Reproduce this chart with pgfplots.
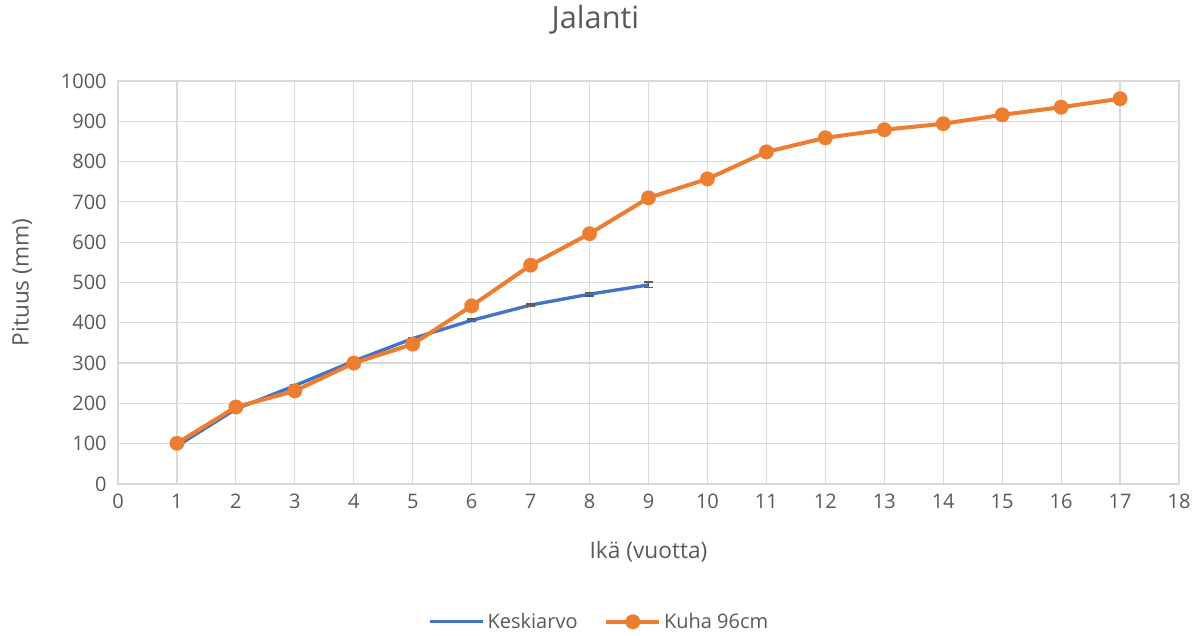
\documentclass[border=0pt]{standalone}
\usepackage{pgfplots}
\pgfplotsset{compat=1.18}
\usepackage{fontspec}
\setmainfont{Open Sans}
\definecolor{cblue}{HTML}{4472C4}
\definecolor{corange}{HTML}{ED7D31}
\definecolor{ctext}{HTML}{595959}
\definecolor{cgrid}{HTML}{D9D9D9}
\begin{document}
\begin{tikzpicture}[x=0.75pt,y=0.75pt]
\begin{axis}[
  scale only axis,
  width=795.75pt, height=302.25pt,
  xmin=0, xmax=18, ymin=0, ymax=1000,
  xtick={0,1,...,18}, ytick={0,100,...,1000},
  grid=major,
  major grid style={cgrid, line width=0.9pt},
  axis line style={cgrid, line width=0.9pt},
  major tick length=0pt,
  tick label style={ctext, font=\fontsize{15}{17}\selectfont},
  /pgf/number format/assume math mode=true,
  /pgf/number format/1000 sep={},
  xticklabel style={yshift=-4pt},
  yticklabel style={xshift=-5pt},
  title={Jalanti},
  title style={ctext, font=\fontsize{23}{26}\selectfont, at={(axis description cs:0.45,1.131)}, anchor=center},
  xlabel={Ikä (vuotta)},
  xlabel style={ctext, font=\fontsize{17}{19}\selectfont, at={(axis description cs:0.5,-0.169)}, anchor=center},
  ylabel={Pituus (mm)},
  ylabel style={ctext, font=\fontsize{17}{19}\selectfont, at={(axis description cs:-0.0905,0.5)}, anchor=center, rotate=0},
  legend columns=2,
  legend style={draw=none, at={(axis description cs:0.454,-0.342)}, anchor=center,
    font=\fontsize{15}{17}\selectfont, text=ctext,
    /tikz/every even column/.append style={column sep=18pt}},
  legend image code/.code={
    \draw[#1, mark=none] (0cm,0cm) -- (1.4cm,0cm);
    \draw[#1, only marks] plot coordinates {(0.7cm,0cm)};},
  legend cell align=left,
]
\addplot[cblue, line width=2.5pt, mark=none,
  error bars/.cd, y dir=both, y explicit,
  error bar style={ctext, line width=0.9pt},
  error mark options={ctext, line width=1.1pt, rotate=90, mark size=3.5pt}]
coordinates {
(1,94) +- (0,3)
(2,186) +- (0,3)
(3,244) +- (0,3)
(4,305) +- (0,3)
(5,361) +- (0,3)
(6,406) +- (0,3)
(7,444) +- (0,3)
(8,471) +- (0,4)
(9,494) +- (0,7)
};
\addlegendentry{Keskiarvo}
\addplot[corange, line width=3pt, mark=*, mark size=5.5pt, mark options={fill=corange, draw=corange, line width=0.1pt}]
coordinates {
(1,101) (2,191) (3,231) (4,300) (5,347) (6,442) (7,543) (8,621) (9,710)
(10,757) (11,824) (12,859) (13,879) (14,894) (15,916) (16,935) (17,956)
};
\addlegendentry{Kuha 96cm}
\end{axis}
\path (current axis.south west) ++(-88.5pt,-113.25pt) rectangle ++(897pt,476.25pt);
\end{tikzpicture}
\end{document}
